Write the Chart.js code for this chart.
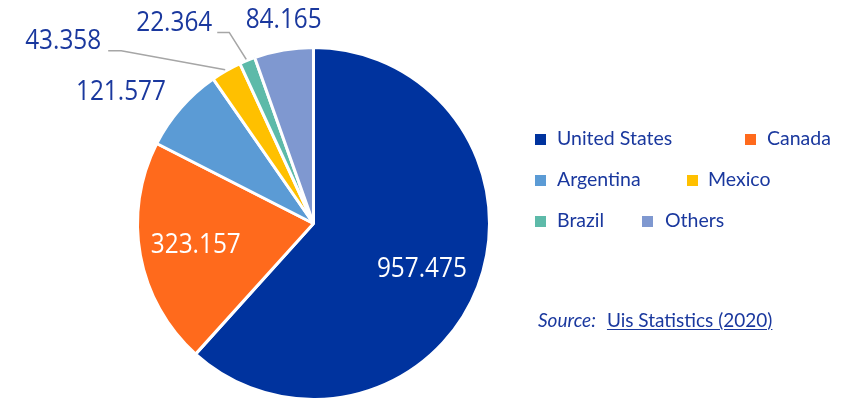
<!DOCTYPE html>
<html>
<head>
<meta charset="utf-8">
<script src="https://cdn.jsdelivr.net/npm/chart.js@4.4.1/dist/chart.umd.min.js"></script>
<style>
  html, body { margin: 0; padding: 0; background: #fff; }
  #wrap { position: relative; width: 846px; height: 401px; overflow: hidden; }
  #c { position: absolute; left: 0; top: 0; }
  .leg { position: absolute; font-family: Lato, "Open Sans", sans-serif; font-size: 19.5px; color: #1A389E; white-space: nowrap; line-height: 20px; }
  .sw { position: absolute; width: 11px; height: 11px; }
  #src { position: absolute; left: 538px; top: 308px; font-family: Lato, sans-serif; font-size: 19px; color: #1A389E; white-space: nowrap; }
  #src i { margin-right: 11px; }
  #src u { text-decoration: underline; text-underline-offset: 2px; }
</style>
</head>
<body>
<div id="wrap">
  <canvas id="c" width="846" height="401"></canvas>
  <div id="legend"></div>
  <div id="src"><i>Source:</i><u>Uis Statistics (2020)</u></div>
</div>
<script>
// ---- data ----
const categories = ["United States", "Canada", "Argentina", "Mexico", "Brazil", "Others"];
const values = [957.475, 323.157, 121.577, 43.358, 22.364, 84.165];
const valueLabels = ["957.475", "323.157", "121.577", "43.358", "22.364", "84.165"];
const colors = ["#00339E", "#FF6A1C", "#5B9BD5", "#FFC000", "#5DBAA9", "#7F98D0"];

// ---- label styling (not data) ----
const labelStyle = [
  { mode: "inside", r: 0.66, dy: 4, color: "#ffffff" },
  { mode: "inside", r: 0.68, dy: 0, color: "#ffffff" },
  { mode: "offset", dx: -60, dy: -16 },
  { mode: "leader", ex: -105, ey: -20, hx: -13, gap: 7, ty: -10 },
  { mode: "leader", ex: -18, ey: -28, hx: -12, gap: 5, ty: -9 },
  { mode: "offset", dx: 0, dy: -30 }
];
const textColor = "#1A389E";

function drawNum(ctx, text, x, y, align) {
  const sx = 0.87;
  ctx.save();
  ctx.font = '28px "Open Sans", sans-serif';
  ctx.textBaseline = "middle";
  ctx.textAlign = align;
  ctx.translate(x, y);
  ctx.scale(sx, 1);
  ctx.fillText(text, 0, 0);
  ctx.restore();
}

const labelPlugin = {
  id: "pieLabels",
  afterDatasetsDraw(chart) {
    const ctx = chart.ctx;
    const meta = chart.getDatasetMeta(0);
    meta.data.forEach((arc, i) => {
      const p = arc.getProps(["x", "y", "startAngle", "endAngle", "outerRadius"], true);
      const mid = (p.startAngle + p.endAngle) / 2;
      const cos = Math.cos(mid), sin = Math.sin(mid);
      const st = labelStyle[i];
      const ox = p.x + cos * p.outerRadius, oy = p.y + sin * p.outerRadius;
      if (st.mode === "inside") {
        ctx.fillStyle = st.color;
        drawNum(ctx, valueLabels[i], p.x + cos * p.outerRadius * st.r, p.y + sin * p.outerRadius * st.r + st.dy, "center");
      } else if (st.mode === "offset") {
        ctx.fillStyle = textColor;
        drawNum(ctx, valueLabels[i], ox + st.dx, oy + st.dy, "center");
      } else {
        const lx = ox - 1, ly = oy - 1;
        const ex = ox + st.ex, ey = oy + st.ey;
        const hx = ex + st.hx;
        ctx.save();
        ctx.strokeStyle = "#A6A6A6";
        ctx.lineWidth = 1.6;
        ctx.beginPath();
        ctx.moveTo(lx, ly);
        ctx.lineTo(ex, ey);
        ctx.lineTo(hx, ey);
        ctx.stroke();
        ctx.restore();
        ctx.fillStyle = textColor;
        drawNum(ctx, valueLabels[i], hx - st.gap, ey + st.ty, "right");
      }
    });
  }
};

new Chart(document.getElementById("c"), {
  type: "pie",
  data: {
    labels: categories,
    datasets: [{
      data: values,
      backgroundColor: colors,
      borderColor: "#ffffff",
      borderWidth: 3,
      hoverOffset: 0
    }]
  },
  options: {
    responsive: false,
    animation: false,
    events: [],
    layout: { padding: { left: 136, top: 46, right: 355, bottom: 0 } },
    plugins: { legend: { display: false }, tooltip: { enabled: false } }
  },
  plugins: [labelPlugin]
});

// ---- HTML legend built from the arrays ----
const legendPos = [
  { sx: 535, tx: 557, y: 138 },
  { sx: 745, tx: 767, y: 138 },
  { sx: 535, tx: 557, y: 179 },
  { sx: 687, tx: 708, y: 179 },
  { sx: 535, tx: 557, y: 220 },
  { sx: 642, tx: 665, y: 220 }
];
const legendEl = document.getElementById("legend");
categories.forEach((name, i) => {
  const lp = legendPos[i];
  const sw = document.createElement("div");
  sw.className = "sw";
  sw.style.left = lp.sx + "px";
  sw.style.top = (lp.y - 4) + "px";
  sw.style.background = colors[i];
  legendEl.appendChild(sw);
  const t = document.createElement("div");
  t.className = "leg";
  t.style.left = lp.tx + "px";
  t.style.top = (lp.y - 10) + "px";
  t.textContent = name;
  legendEl.appendChild(t);
});
</script>
</body>
</html>
